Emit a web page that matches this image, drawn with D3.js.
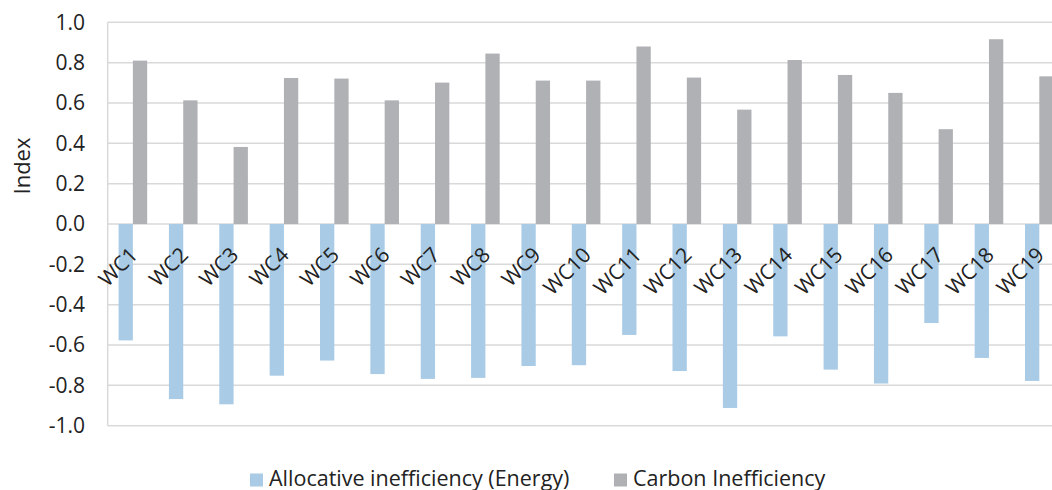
<!DOCTYPE html>
<html><head><meta charset="utf-8">
<script src="https://cdn.jsdelivr.net/npm/d3@7"></script>
<style>body{margin:0;background:#fff}svg{display:block}text{font-family:"Open Sans",sans-serif;fill:#222}</style>
</head><body><svg id="c" width="1052" height="490"></svg>
<script>
const categories = ["WC1","WC2","WC3","WC4","WC5","WC6","WC7","WC8","WC9","WC10","WC11","WC12","WC13","WC14","WC15","WC16","WC17","WC18","WC19"];
const allocative = [-0.577,-0.868,-0.894,-0.752,-0.677,-0.744,-0.768,-0.763,-0.704,-0.700,-0.550,-0.729,-0.912,-0.557,-0.722,-0.791,-0.491,-0.664,-0.778];
const carbon = [0.810,0.613,0.382,0.724,0.721,0.613,0.701,0.845,0.711,0.711,0.880,0.726,0.567,0.813,0.739,0.650,0.470,0.916,0.732];
const seriesNames = ["Allocative inefficiency (Energy)","Carbon Inefficiency"];
const colors = ["#a9cbe6","#b0b1b5"];
const yTicks = [1.0,0.8,0.6,0.4,0.2,0.0,-0.2,-0.4,-0.6,-0.8,-1.0];

(function(){
const svg = d3.select("#c");
const pL = 107.7, pR = 1064.5, pT = 22.3, pB = 425.7;
const y = d3.scaleLinear().domain([-1,1]).range([pB, pT]);
const x0 = d3.scaleBand().domain(categories).range([pL, pR]).paddingInner(0.432).paddingOuter(0.216);
const x1 = d3.scaleBand().domain([0,1]).range([0, x0.bandwidth()]);

svg.append("g").selectAll("line").data(yTicks).join("line")
  .attr("x1", pL).attr("x2", 1052).attr("y1", d=>y(d)).attr("y2", d=>y(d))
  .attr("stroke", "#d9d9d9").attr("stroke-width", 1.5);
svg.append("line").attr("x1", pL).attr("x2", pL).attr("y1", pT).attr("y2", pB)
  .attr("stroke", "#d9d9d9").attr("stroke-width", 1.5);

svg.append("g").selectAll("text").data(yTicks).join("text")
  .attr("x", 85).attr("y", d=>y(d)).attr("dy", "0.35em").attr("text-anchor", "end")
  .style("font-size", "21px").text(d=>d3.format(".1f")(d).replace("−","-"));

const data = [allocative, carbon];
const g = svg.append("g");
data.forEach((vals, s) => {
  g.selectAll(null).data(vals).join("rect")
    .attr("x", (d,i)=>x0(categories[i]) + x1(s))
    .attr("width", x1.bandwidth())
    .attr("y", d=>y(Math.max(0,d)))
    .attr("height", d=>Math.abs(y(d)-y(0)))
    .attr("fill", colors[s]);
});

svg.append("g").selectAll("text").data(categories).join("text")
  .attr("transform", d=>`translate(${x0(d)+x0.bandwidth()/2+1},${251}) rotate(-45)`)
  .attr("text-anchor", "end").attr("dy", "0.35em")
  .style("font-size", "21px").text(d=>d);

svg.append("text").attr("transform", `translate(30,166) rotate(-90)`)
  .attr("text-anchor", "middle").style("font-size", "22px").text("Index");

const legX = [250, 614];
seriesNames.forEach((n, i) => {
  svg.append("rect").attr("x", legX[i]).attr("y", 473.5).attr("width", 13).attr("height", 13).attr("fill", colors[i]);
  svg.append("text").attr("x", legX[i]+19).attr("y", 485.5).style("font-size", "21.5px").text(n);
});
})();
</script></body></html>
